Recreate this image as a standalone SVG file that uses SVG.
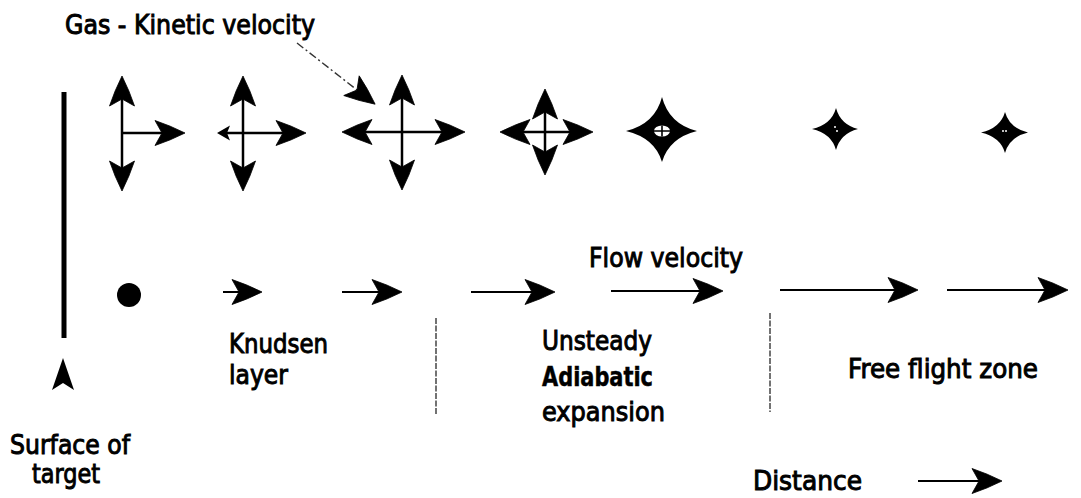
<svg xmlns="http://www.w3.org/2000/svg" width="1081" height="498" viewBox="0 0 1081 498">
  <style>
    text { font-family: "DejaVu Sans", Verdana, sans-serif; font-size: 26px; fill: #000; stroke: #000; stroke-width: 1px; }
    .bold { font-weight: bold; stroke-width: 0.5px; }
    .shaft { stroke: #000; stroke-width: 2.5; fill: none; }
    .flow { stroke: #000; stroke-width: 2; fill: none; }
    .divider { stroke: #444; stroke-width: 1.5; stroke-dasharray: 6 1.5; fill: none; }
    .pointer { stroke: #333; stroke-width: 1.4; stroke-dasharray: 8 3 2 3; fill: none; }
    .star { fill: #000; }
  </style>
  <defs>
    <!-- notched arrowhead; the line ends at the notch -->
    <marker id="head" viewBox="0 0 30 25" refX="7" refY="12.5" markerWidth="30" markerHeight="25" markerUnits="userSpaceOnUse" orient="auto-start-reverse" overflow="visible">
      <path d="M30,12.5 Q15,5 0,0 L7,12.5 L0,25 Q15,20 30,12.5 Z" fill="#000" stroke="#000" stroke-width="0.8" stroke-linejoin="round"/>
    </marker>
    <marker id="headSmall" viewBox="0 0 13 15" refX="3" refY="7.5" markerWidth="13" markerHeight="15" markerUnits="userSpaceOnUse" orient="auto-start-reverse" overflow="visible">
      <path d="M13,7.5 L0,0 L3,7.5 L0,15 Z" fill="#000" stroke="none"/>
    </marker>
  </defs>

  <!-- target surface -->
  <g id="surface">
    <line x1="64" y1="92" x2="64" y2="338" stroke="#000" stroke-width="5"/>
    <path d="M63,358 L52,390 L63,383 L74,390 Z" fill="#000"/>
    <text x="10" y="454" textLength="120" lengthAdjust="spacingAndGlyphs">Surface of</text>
    <text x="32" y="483" textLength="68" lengthAdjust="spacingAndGlyphs">target</text>
  </g>

  <!-- kinetic velocity glyphs, shrinking with distance -->
  <g id="kinetic-1">
    <path class="shaft" d="M122,99 L122,168" marker-start="url(#head)" marker-end="url(#head)"/>
    <path class="shaft" d="M122,133 L162,133" marker-end="url(#head)"/>
  </g>
  <g id="kinetic-2">
    <path class="shaft" d="M243,99 L243,168" marker-start="url(#head)" marker-end="url(#head)"/>
    <path class="shaft" d="M227,133 L283,133" marker-start="url(#headSmall)" marker-end="url(#head)"/>
  </g>
  <g id="kinetic-3">
    <path class="shaft" d="M402,98 L402,167" marker-start="url(#head)" marker-end="url(#head)"/>
    <path class="shaft" d="M365,132 L442,132" marker-start="url(#head)" marker-end="url(#head)"/>
  </g>
  <g id="kinetic-4">
    <path class="shaft" d="M545,112 L545,152" marker-start="url(#head)" marker-end="url(#head)"/>
    <path class="shaft" d="M523,132 L570,132" marker-start="url(#head)" marker-end="url(#head)"/>
  </g>
  <g id="kinetic-5">
    <path class="star" d="M662,97 Q669,124 697,131 Q669,138 662,162 Q655,138 626,131 Q655,124 662,97 Z"/>
    <ellipse cx="662" cy="131" rx="8" ry="5.5" fill="#fff"/>
    <path d="M654,131 H670 M662,125.5 V136.5" stroke="#000" stroke-width="1.6"/>
  </g>
  <g id="kinetic-6">
    <path class="star" d="M836,108 Q840.5,124.5 858,129 Q840.5,133.5 836,150 Q831.5,133.5 812,129 Q831.5,124.5 836,108 Z"/>
    <circle cx="835" cy="127" r="1" fill="#fff"/>
    <circle cx="837" cy="131" r="1" fill="#fff"/>
  </g>
  <g id="kinetic-7">
    <path class="star" d="M1005,112 Q1009.5,128 1028,132.5 Q1009.5,137 1005,153 Q1000.5,137 981,132.5 Q1000.5,128 1005,112 Z"/>
    <circle cx="1003" cy="131" r="1" fill="#fff"/>
    <circle cx="1006" cy="131" r="1" fill="#fff"/>
  </g>

  <g id="kinetic-label">
    <text x="65" y="34" textLength="250" lengthAdjust="spacingAndGlyphs">Gas - Kinetic velocity</text>
  </g>

  <!-- flow velocity row -->
  <g id="origin-dot">
    <circle cx="129" cy="295" r="12" fill="#000"/>
  </g>

  <g id="connectors">
    <path class="pointer" d="M297,43 L357,90" marker-end="url(#head)"/>
    <path class="flow" d="M223,292 L239,292" marker-end="url(#head)"/>
    <path class="flow" d="M342,292 L379,292" marker-end="url(#head)"/>
    <path class="flow" d="M471,292 L532,292" marker-end="url(#head)"/>
    <path class="flow" d="M611,291 L700,291" marker-end="url(#head)"/>
    <path class="flow" d="M780,290 L895,290" marker-end="url(#head)"/>
    <path class="flow" d="M947,290 L1045,290" marker-end="url(#head)"/>
    <path class="flow" d="M918,481 L979,481" marker-end="url(#head)" stroke-width="1.5"/>
  </g>

  <g id="flow-label">
    <text x="589" y="267" textLength="154" lengthAdjust="spacingAndGlyphs">Flow velocity</text>
  </g>

  <!-- zone boundaries -->
  <g id="dividers">
    <line class="divider" x1="436" y1="318" x2="436" y2="415"/>
    <line class="divider" x1="770" y1="313" x2="770" y2="412"/>
  </g>

  <g id="zone-knudsen">
    <text x="229" y="353" textLength="99" lengthAdjust="spacingAndGlyphs">Knudsen</text>
    <text x="229" y="384" textLength="59" lengthAdjust="spacingAndGlyphs">layer</text>
  </g>
  <g id="zone-adiabatic">
    <text x="542" y="350" textLength="110" lengthAdjust="spacingAndGlyphs">Unsteady</text>
    <text class="bold" x="542" y="386" textLength="111" lengthAdjust="spacingAndGlyphs">Adiabatic</text>
    <text x="542" y="421" textLength="123" lengthAdjust="spacingAndGlyphs">expansion</text>
  </g>
  <g id="zone-free">
    <text x="848" y="378" textLength="190" lengthAdjust="spacingAndGlyphs">Free flight zone</text>
  </g>
  <g id="distance-label">
    <text x="753" y="490" textLength="109" lengthAdjust="spacingAndGlyphs">Distance</text>
  </g>
</svg>
